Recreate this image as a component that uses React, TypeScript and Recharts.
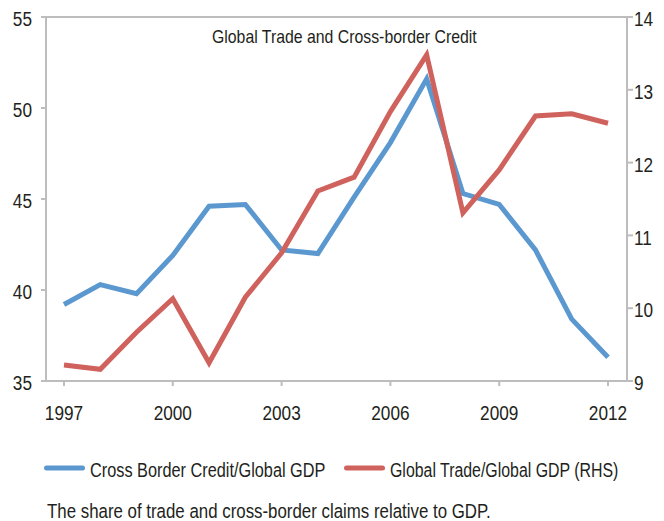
import { LineChart, Line, XAxis, YAxis, ReferenceLine } from 'recharts'

const years = [1997, 1998, 1999, 2000, 2001, 2002, 2003, 2004, 2005, 2006, 2007, 2008, 2009, 2010, 2011, 2012]
const crossBorderCredit = [39.2, 40.3, 39.8, 41.9, 44.6, 44.7, 42.2, 42.0, 45.1, 48.1, 51.6, 45.3, 44.7, 42.2, 38.4, 36.3]
const globalTrade = [9.22, 9.16, 9.67, 10.13, 9.25, 10.15, 10.76, 11.61, 11.8, 12.7, 13.48, 11.31, 11.9, 12.64, 12.67, 12.54]

const xTicks = [1997, 2000, 2003, 2006, 2009, 2012]
const leftTicks = [35, 40, 45, 50, 55]
const rightTicks = [9, 10, 11, 12, 13, 14]

const BLUE = '#5b98cf'
const RED = '#cf625c'
const GREY = '#bdbdbd'
const INK = '#231f20'
const FONT = '"Liberation Sans", Arial, sans-serif'

const data = years.map((year, i) => ({
  year,
  credit: crossBorderCredit[i],
  trade: globalTrade[i]
}))

// the original uses a condensed face, so squeeze Liberation Sans a little
const makeTick = (anchor: 'start' | 'end' | 'middle', dy: string) => (props: any) => {
  const { x, y, payload } = props
  return (
    <g transform={`translate(${x},${y})`}>
      <text
        transform="scale(0.84,1)"
        textAnchor={anchor}
        dy={dy}
        fontSize={20.5}
        fill={INK}
        fontFamily={FONT}
      >
        {payload.value}
      </text>
    </g>
  )
}

// condensed text placed at x/baseline y
const Squeezed = ({ x, y, sx, size, children }: { x: number; y: number; sx: number; size: number; children: string }) => (
  <g transform={`translate(${x},${y}) scale(${sx},1)`}>
    <text x={0} y={0} fontSize={size}>{children}</text>
  </g>
)

const App = () => {
  return (
    <div style={{ position: 'absolute', left: 0, top: 0, width: 664, height: 521, background: 'white', fontFamily: FONT }}>
      <LineChart
        width={664}
        height={430}
        data={data}
        margin={{ top: 17, right: 0, bottom: 9, left: 0 }}
      >
        <XAxis
          dataKey="year"
          type="number"
          domain={[1997, 2012]}
          ticks={xTicks}
          padding={{ left: 18, right: 19 }}
          height={40}
          tickSize={5}
          tickMargin={19}
          axisLine={{ stroke: GREY, strokeWidth: 2 }}
          tickLine={{ stroke: GREY, strokeWidth: 2 }}
          tick={makeTick('middle', '0.71em')}
        />
        <YAxis
          yAxisId="left"
          domain={[35, 55]}
          ticks={leftTicks}
          width={46}
          tickSize={5}
          tickMargin={9}
          axisLine={{ stroke: GREY, strokeWidth: 2 }}
          tickLine={{ stroke: GREY, strokeWidth: 2 }}
          tick={makeTick('end', '0.45em')}
        />
        <YAxis
          yAxisId="right"
          orientation="right"
          domain={[9, 14]}
          ticks={rightTicks}
          width={37}
          tickSize={6}
          tickMargin={1}
          axisLine={{ stroke: GREY, strokeWidth: 2 }}
          tickLine={{ stroke: GREY, strokeWidth: 2 }}
          tick={makeTick('start', '0.45em')}
        />
        <ReferenceLine yAxisId="left" y={55} stroke={GREY} strokeWidth={2} />
        <Line
          yAxisId="left"
          dataKey="credit"
          stroke={BLUE}
          strokeWidth={5}
          dot={false}
          isAnimationActive={false}
        />
        <Line
          yAxisId="right"
          dataKey="trade"
          stroke={RED}
          strokeWidth={5}
          dot={false}
          isAnimationActive={false}
        />
      </LineChart>

      {/* title, legend and note drawn on top */}
      <svg
        width={664}
        height={521}
        style={{ position: 'absolute', left: 0, top: 0, pointerEvents: 'none' }}
        fontFamily={FONT}
        fill={INK}
      >
        <Squeezed x={212} y={43} sx={0.88} size={18}>Global Trade and Cross-border Credit</Squeezed>

        <line x1={46.5} x2={82.5} y1={468} y2={468} stroke={BLUE} strokeWidth={5} strokeLinecap="round" />
        <Squeezed x={90} y={477} sx={0.815} size={20}>Cross Border Credit/Global GDP</Squeezed>

        <line x1={346.5} x2={382.5} y1={468} y2={468} stroke={RED} strokeWidth={5} strokeLinecap="round" />
        <Squeezed x={390} y={477} sx={0.795} size={20}>Global Trade/Global GDP (RHS)</Squeezed>

        <Squeezed x={47} y={518} sx={0.865} size={19.5}>The share of trade and cross-border claims relative to GDP.</Squeezed>
      </svg>
    </div>
  )
}

export default App
